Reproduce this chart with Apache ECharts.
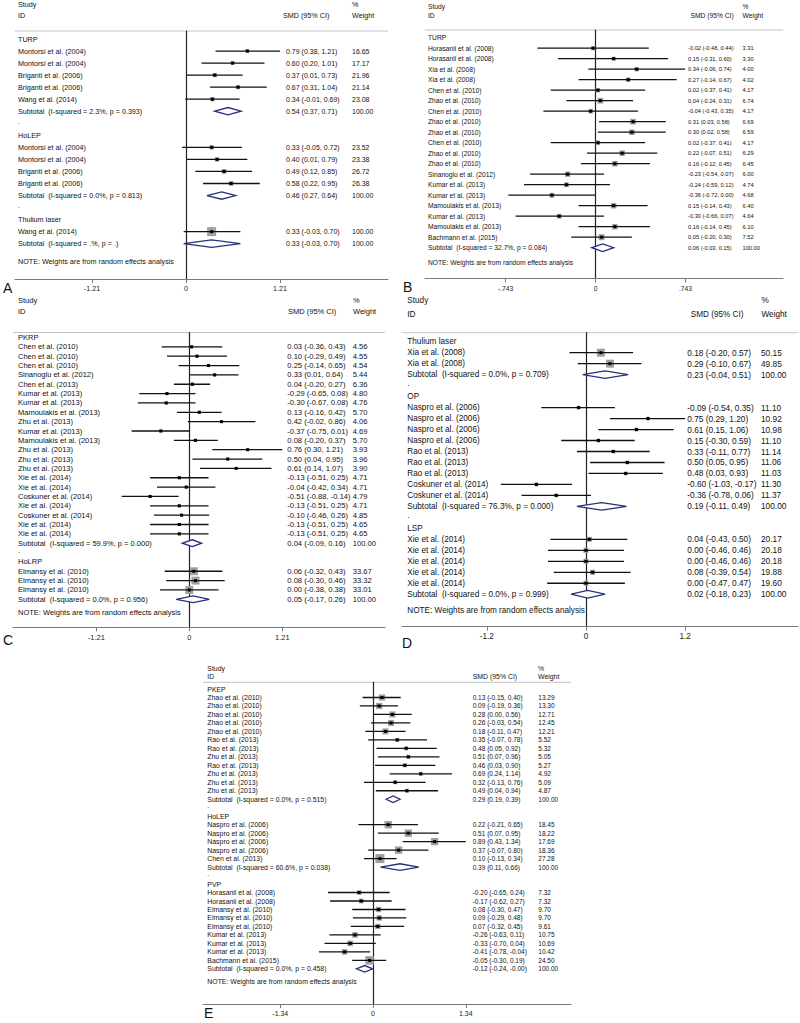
<!DOCTYPE html>
<html><head><meta charset="utf-8">
<script src="https://cdn.jsdelivr.net/npm/echarts@6/dist/echarts.min.js"></script>
<style>html,body{margin:0;padding:0;background:#fff}#c{width:800px;height:1023px}</style>
</head><body><div id="c"></div><script>
// ---------------- DATA ----------------
// Panel A
const A_groups = ['TURP', 'HoLEP', 'Thulium laser'];
const A_grp = [0, 0, 0, 0, 0, 1, 1, 1, 1, 2];
const A_names = ['Montorsi et al. (2004)', 'Montorsi et al. (2004)', 'Briganti et al. (2006)', 'Briganti et al. (2006)', 'Wang et al. (2014)',
  'Montorsi et al. (2004)', 'Montorsi et al. (2004)', 'Briganti et al. (2006)', 'Briganti et al. (2006)', 'Wang et al. (2014)'];
const A_est = [0.79, 0.60, 0.37, 0.67, 0.34, 0.33, 0.40, 0.49, 0.58, 0.33];
const A_lo = [0.38, 0.20, 0.01, 0.31, -0.01, -0.05, 0.01, 0.12, 0.22, -0.03];
const A_hi = [1.21, 1.01, 0.73, 1.04, 0.69, 0.72, 0.79, 0.85, 0.95, 0.70];
const A_wt = [16.65, 17.17, 21.96, 21.14, 23.08, 23.52, 23.38, 26.72, 26.38, 100.00];
const A_subEst = [0.54, 0.46, 0.33];
const A_subLo = [0.37, 0.27, -0.03];
const A_subHi = [0.71, 0.64, 0.70];
const A_subWt = [100, 100, 100];
const A_subI2 = ['2.3%', '0.0%', '.%'];
const A_subP = ['0.393', '0.813', '.'];
const A_ticks = [-1.21, 0, 1.21];
const A_tickLabels = ['-1.21', '0', '1.21'];

// Panel B
const B_groups = ['TURP'];
const B_grp = [0, 0, 0, 0, 0, 0, 0, 0, 0, 0, 0, 0, 0, 0, 0, 0, 0, 0, 0];
const B_names = ['Horasanli et al. (2008)', 'Horasanli et al. (2008)', 'Xia et al. (2008)', 'Xia et al. (2008)', 'Chen et al. (2010)',
  'Zhao et al. (2010)', 'Chen et al. (2010)', 'Zhao et al. (2010)', 'Zhao et al. (2010)', 'Chen et al. (2010)', 'Zhao et al. (2010)',
  'Zhao et al. (2010)', 'Sinanoglu et al. (2012)', 'Kumar et al. (2013)', 'Kumar et al. (2013)', 'Mamoulakis et al. (2013)',
  'Kumar et al. (2013)', 'Mamoulakis et al. (2013)', 'Bachmann et al. (2015)'];
const B_est = [-0.02, 0.15, 0.34, 0.27, 0.02, 0.04, -0.04, 0.31, 0.30, 0.02, 0.22, 0.16, -0.23, -0.24, -0.36, 0.15, -0.30, 0.16, 0.05];
const B_lo = [-0.48, -0.31, -0.06, -0.14, -0.37, -0.24, -0.43, 0.03, 0.02, -0.37, -0.07, -0.12, -0.54, -0.59, -0.72, -0.14, -0.66, -0.14, -0.20];
const B_hi = [0.44, 0.60, 0.74, 0.67, 0.41, 0.31, 0.35, 0.58, 0.58, 0.41, 0.51, 0.45, 0.07, 0.12, 0.00, 0.43, 0.07, 0.45, 0.30];
const B_wt = [3.31, 3.30, 4.00, 4.02, 4.17, 6.74, 4.17, 6.69, 6.59, 4.17, 6.29, 6.45, 6.00, 4.74, 4.68, 6.40, 4.64, 6.10, 7.52];
const B_subEst = [0.06];
const B_subLo = [-0.03];
const B_subHi = [0.15];
const B_subWt = [100];
const B_subI2 = ['32.7%'];
const B_subP = ['0.084'];
const B_ticks = [-0.743, 0, 0.743];
const B_tickLabels = ['-.743', '0', '.743'];

// Panel C
const C_groups = ['PKRP', 'HoLRP'];
const C_grp = [0, 0, 0, 0, 0, 0, 0, 0, 0, 0, 0, 0, 0, 0, 0, 0, 0, 0, 0, 0, 0, 1, 1, 1];
const C_names = ['Chen et al. (2010)', 'Chen et al. (2010)', 'Chen et al. (2010)', 'Sinanoglu et al. (2012)', 'Chen et al. (2013)',
  'Kumar et al. (2013)', 'Kumar et al. (2013)', 'Mamoulakis et al. (2013)', 'Zhu et al. (2013)', 'Kumar et al. (2013)',
  'Mamoulakis et al. (2013)', 'Zhu et al. (2013)', 'Zhu et al. (2013)', 'Zhu et al. (2013)', 'Xie et al. (2014)', 'Xie et al. (2014)',
  'Coskuner et al. (2014)', 'Xie et al. (2014)', 'Coskuner et al. (2014)', 'Xie et al. (2014)', 'Xie et al. (2014)',
  'Elmansy et al. (2010)', 'Elmansy et al. (2010)', 'Elmansy et al. (2010)'];
const C_est = [0.03, 0.10, 0.25, 0.33, 0.04, -0.29, -0.30, 0.13, 0.42, -0.37, 0.08, 0.76, 0.50, 0.61, -0.13, -0.04, -0.51, -0.13, -0.10, -0.13, -0.13, 0.06, 0.08, 0.00];
const C_lo = [-0.36, -0.29, -0.14, 0.01, -0.20, -0.65, -0.67, -0.16, -0.02, -0.75, -0.20, 0.30, 0.04, 0.14, -0.51, -0.42, -0.88, -0.51, -0.46, -0.51, -0.51, -0.32, -0.30, -0.38];
const C_hi = [0.43, 0.49, 0.65, 0.64, 0.27, 0.08, 0.08, 0.42, 0.86, 0.01, 0.37, 1.21, 0.95, 1.07, 0.25, 0.34, -0.14, 0.25, 0.26, 0.25, 0.25, 0.43, 0.46, 0.38];
const C_wt = [4.56, 4.55, 4.54, 5.44, 6.36, 4.80, 4.76, 5.70, 4.06, 4.69, 5.70, 3.93, 3.96, 3.90, 4.71, 4.71, 4.79, 4.71, 4.85, 4.65, 4.65, 33.67, 33.32, 33.01];
const C_subEst = [0.04, 0.05];
const C_subLo = [-0.09, -0.17];
const C_subHi = [0.16, 0.26];
const C_subWt = [100, 100];
const C_subI2 = ['59.9%', '0.0%'];
const C_subP = ['0.000', '0.956'];
const C_ticks = [-1.21, 0, 1.21];
const C_tickLabels = ['-1.21', '0', '1.21'];

// Panel D
const D_groups = ['Thulium laser', 'OP', 'LSP'];
const D_grp = [0, 0, 1, 1, 1, 1, 1, 1, 1, 1, 1, 2, 2, 2, 2, 2];
const D_names = ['Xia et al. (2008)', 'Xia et al. (2008)', 'Naspro et al. (2006)', 'Naspro et al. (2006)', 'Naspro et al. (2006)',
  'Naspro et al. (2006)', 'Rao et al. (2013)', 'Rao et al. (2013)', 'Rao et al. (2013)', 'Coskuner et al. (2014)',
  'Coskuner et al. (2014)', 'Xie et al. (2014)', 'Xie et al. (2014)', 'Xie et al. (2014)', 'Xie et al. (2014)', 'Xie et al. (2014)'];
const D_est = [0.18, 0.29, -0.09, 0.75, 0.61, 0.15, 0.33, 0.50, 0.48, -0.60, -0.36, 0.04, 0.00, 0.00, 0.08, 0.00];
const D_lo = [-0.20, -0.10, -0.54, 0.29, 0.15, -0.30, -0.11, 0.05, 0.03, -1.03, -0.78, -0.43, -0.46, -0.46, -0.39, -0.47];
const D_hi = [0.57, 0.67, 0.35, 1.20, 1.06, 0.59, 0.77, 0.95, 0.93, -0.17, 0.06, 0.50, 0.46, 0.46, 0.54, 0.47];
const D_wt = [50.15, 49.85, 11.10, 10.92, 10.98, 11.10, 11.14, 11.06, 11.03, 11.30, 11.37, 20.17, 20.18, 20.18, 19.88, 19.60];
const D_subEst = [0.23, 0.19, 0.02];
const D_subLo = [-0.04, -0.11, -0.18];
const D_subHi = [0.51, 0.49, 0.23];
const D_subWt = [100, 100, 100];
const D_subI2 = ['0.0%', '76.3%', '0.0%'];
const D_subP = ['0.709', '0.000', '0.999'];
const D_ticks = [-1.2, 0, 1.2];
const D_tickLabels = ['-1.2', '0', '1.2'];

// Panel E
const E_groups = ['PKEP', 'HoLEP', 'PVP'];
const E_grp = [0, 0, 0, 0, 0, 0, 0, 0, 0, 0, 0, 0, 1, 1, 1, 1, 1, 2, 2, 2, 2, 2, 2, 2, 2, 2];
const E_names = ['Zhao et al. (2010)', 'Zhao et al. (2010)', 'Zhao et al. (2010)', 'Zhao et al. (2010)', 'Zhao et al. (2010)',
  'Rao et al. (2013)', 'Rao et al. (2013)', 'Zhu et al. (2013)', 'Rao et al. (2013)', 'Zhu et al. (2013)', 'Zhu et al. (2013)',
  'Zhu et al. (2013)', 'Naspro et al. (2006)', 'Naspro et al. (2006)', 'Naspro et al. (2006)', 'Naspro et al. (2006)',
  'Chen et al. (2013)', 'Horasanli et al. (2008)', 'Horasanli et al. (2008)', 'Elmansy et al. (2010)', 'Elmansy et al. (2010)',
  'Elmansy et al. (2010)', 'Kumar et al. (2013)', 'Kumar et al. (2013)', 'Kumar et al. (2013)', 'Bachmann et al. (2015)'];
const E_est = [0.13, 0.09, 0.28, 0.26, 0.18, 0.35, 0.48, 0.51, 0.46, 0.69, 0.32, 0.49, 0.22, 0.51, 0.89, 0.37, 0.10, -0.20, -0.17, 0.08, 0.09, 0.07, -0.26, -0.33, -0.41, -0.05];
const E_lo = [-0.15, -0.19, 0.00, -0.03, -0.11, -0.07, 0.05, 0.07, 0.03, 0.24, -0.13, 0.04, -0.21, 0.07, 0.43, -0.07, -0.13, -0.65, -0.62, -0.30, -0.29, -0.32, -0.63, -0.70, -0.78, -0.30];
const E_hi = [0.40, 0.36, 0.56, 0.54, 0.47, 0.78, 0.92, 0.96, 0.90, 1.14, 0.76, 0.94, 0.65, 0.95, 1.34, 0.80, 0.34, 0.24, 0.27, 0.47, 0.48, 0.45, 0.11, 0.04, -0.04, 0.19];
const E_wt = [13.29, 13.30, 12.71, 12.45, 12.21, 5.52, 5.32, 5.05, 5.27, 4.92, 5.09, 4.87, 18.45, 18.22, 17.69, 18.36, 27.28, 7.32, 7.32, 9.70, 9.70, 9.61, 10.75, 10.69, 10.42, 24.50];
const E_subEst = [0.29, 0.39, -0.12];
const E_subLo = [0.19, 0.11, -0.24];
const E_subHi = [0.39, 0.66, -0.004];
const E_subWt = [100, 100, 100];
const E_subI2 = ['0.0%', '60.6%', '0.0%'];
const E_subP = ['0.515', '0.038', '0.458'];
const E_ticks = [-1.34, 0, 1.34];
const E_tickLabels = ['-1.34', '0', '1.34'];

const NOTE_TEXT = 'NOTE: Weights are from random effects analysis';

// ---------------- LAYOUT (pixels) ----------------
const LAY_A = {left:15, right:388, zeroX:186, tickPx:94, top:31, bottom:279, r0:39, sp:12.04, font:7.2, valFont:7.0, nameX:18, ciX:286, wtX:352, hY1:4, hY2:15, hSmdX:283, hPctX:352, letter:'A', lx:3, ly:288, box:9, dia:3.7};
const LAY_B = {left:425, right:783, zeroX:595.5, tickPx:90, top:30, bottom:278.5, r0:37.7, sp:10.5, font:6.7, valFont:5.7, nameX:428, ciX:688, wtX:742.5, hY1:6, hY2:15, hSmdX:690.5, hPctX:742.5, letter:'B', lx:403, ly:287, box:6, dia:3.8};
const LAY_C = {left:13, right:385, zeroX:189.3, tickPx:93, top:332.5, bottom:627.3, r0:337.5, sp:9.35, font:7.5, valFont:7.6, nameX:18, ciX:287.3, wtX:352.7, hY1:300.7, hY2:311.7, hSmdX:288, hPctX:353, letter:'C', lx:3, ly:640, box:8, dia:3.4};
const LAY_D = {left:402, right:798, zeroX:586, tickPx:99.2, top:332.7, bottom:626.7, r0:341.7, sp:10.98, font:8.2, valFont:8.3, nameX:407.3, ciX:687.3, wtX:761, hY1:300, hY2:314, hSmdX:690.7, hPctX:761.5, letter:'D', lx:402, ly:643, box:8, dia:3.8};
const LAY_E = {left:203, right:571, zeroX:373, tickPx:92.8, top:682.3, bottom:1004, r0:689, sp:8.48, font:6.9, valFont:6.5, nameX:207.3, ciX:472.7, wtX:538.3, hY1:668, hY2:676.5, hSmdX:472.7, hPctX:538, letter:'E', lx:204, ly:1013, box:9, dia:3.3};

const PANELS = [
  {L:LAY_A, groups:A_groups, grp:A_grp, names:A_names, est:A_est, lo:A_lo, hi:A_hi, wt:A_wt, sEst:A_subEst, sLo:A_subLo, sHi:A_subHi, sWt:A_subWt, sI2:A_subI2, sP:A_subP, ticks:A_ticks, tickLabels:A_tickLabels},
  {L:LAY_B, groups:B_groups, grp:B_grp, names:B_names, est:B_est, lo:B_lo, hi:B_hi, wt:B_wt, sEst:B_subEst, sLo:B_subLo, sHi:B_subHi, sWt:B_subWt, sI2:B_subI2, sP:B_subP, ticks:B_ticks, tickLabels:B_tickLabels},
  {L:LAY_C, groups:C_groups, grp:C_grp, names:C_names, est:C_est, lo:C_lo, hi:C_hi, wt:C_wt, sEst:C_subEst, sLo:C_subLo, sHi:C_subHi, sWt:C_subWt, sI2:C_subI2, sP:C_subP, ticks:C_ticks, tickLabels:C_tickLabels},
  {L:LAY_D, groups:D_groups, grp:D_grp, names:D_names, est:D_est, lo:D_lo, hi:D_hi, wt:D_wt, sEst:D_subEst, sLo:D_subLo, sHi:D_subHi, sWt:D_subWt, sI2:D_subI2, sP:D_subP, ticks:D_ticks, tickLabels:D_tickLabels},
  {L:LAY_E, groups:E_groups, grp:E_grp, names:E_names, est:E_est, lo:E_lo, hi:E_hi, wt:E_wt, sEst:E_subEst, sLo:E_subLo, sHi:E_subHi, sWt:E_subWt, sI2:E_subI2, sP:E_subP, ticks:E_ticks, tickLabels:E_tickLabels}
];

const FONT_FAMILY = '"Liberation Sans", Arial, Helvetica, sans-serif';
const TXT = '#111';
const f2 = v => v.toFixed(2);

function buildRows(P) {
  const rows = []; let r = 0;
  P.groups.forEach((g, gi) => {
    if (gi > 0) rows.push({type:'dot', r: r++});
    rows.push({type:'group', r: r++, text: g});
    P.names.forEach((n, i) => { if (P.grp[i] === gi) rows.push({type:'study', r: r++, i: i}); });
    rows.push({type:'sub', r: r++, gi: gi});
  });
  rows.push({type:'note', r: r + 0.45});
  return rows;
}

function textEl(x, y, s, size, align) {
  const a = align || 'left';
  return {type:'text', style:{x:x, y:y, text:s, font: size + 'px ' + FONT_FAMILY, fill:TXT,
    textAlign:a, align:a, textVerticalAlign:'middle', verticalAlign:'middle'}};
}

const option = {
  animation:false,
  backgroundColor:'#fff',
  grid:[], xAxis:[], yAxis:[], series:[], graphic:[]
};

PANELS.forEach((P, k) => {
  const L = P.L;
  const ppu = L.tickPx / P.ticks[2];
  const rows = buildRows(P);
  const maxWt = Math.max.apply(null, P.wt);
  option.grid.push({left:L.left, top:L.top, width:L.right - L.left, height:L.bottom - L.top,
    containLabel:false, outerBoundsMode:'none'});
  option.xAxis.push({
    type:'value', gridIndex:k,
    min:(L.left - L.zeroX) / ppu, max:(L.right - L.zeroX) / ppu,
    axisLine:{show:true, onZero:false, lineStyle:{color:'#7a7a7a', width:1}},
    axisTick:{show:true, customValues:P.ticks, length:4, inside:false, lineStyle:{color:'#7a7a7a'}},
    axisLabel:{customValues:P.ticks, margin:6, fontSize:L.font, color:'#222', fontFamily:FONT_FAMILY,
      formatter: v => { const j = P.ticks.findIndex(t => Math.abs(t - v) < 1e-9); return j >= 0 ? P.tickLabels[j] : ''; }},
    splitLine:{show:false}
  });
  option.yAxis.push({
    type:'value', gridIndex:k, inverse:true,
    min:(L.top - L.r0) / L.sp, max:(L.bottom - L.r0) / L.sp,
    axisLine:{show:true, onZero:true, lineStyle:{color:'#222', width:1.2}},
    axisTick:{show:false}, axisLabel:{show:false}, splitLine:{show:false}
  });
  option.series.push({
    type:'custom', xAxisIndex:k, yAxisIndex:k, clip:false, silent:true,
    data: rows.map(row => [row.type === 'study' ? P.est[row.i] : (row.type === 'sub' ? P.sEst[row.gi] : 0), row.r]),
    renderItem: function (params, api) {
      const row = rows[params.dataIndex];
      const y = api.coord([0, row.r])[1];
      const px = v => api.coord([v, row.r])[0];
      const ch = [];
      if (row.type === 'group') ch.push(textEl(L.nameX, y, row.text, L.font));
      else if (row.type === 'dot') ch.push(textEl(L.nameX, y - 2, '.', L.font));
      else if (row.type === 'note') ch.push(textEl(L.nameX, y, NOTE_TEXT, L.font));
      else if (row.type === 'study') {
        const i = row.i;
        const s = L.box * Math.sqrt(P.wt[i] / maxWt);
        const cx = px(P.est[i]);
        ch.push({type:'rect', shape:{x:cx - s / 2, y:y - s / 2, width:s, height:s}, style:{fill:'#a0a0a0'}});
        ch.push({type:'line', shape:{x1:px(P.lo[i]), y1:y, x2:px(P.hi[i]), y2:y}, style:{stroke:'#111', lineWidth:1.3}});
        ch.push({type:'rect', shape:{x:cx - 1.5, y:y - 1.5, width:3, height:3}, style:{fill:'#000'}});
        ch.push(textEl(L.nameX, y, P.names[i], L.font));
        ch.push(textEl(L.ciX, y, f2(P.est[i]) + ' (' + f2(P.lo[i]) + ', ' + f2(P.hi[i]) + ')', L.valFont));
        ch.push(textEl(L.wtX, y, f2(P.wt[i]), L.valFont));
      } else if (row.type === 'sub') {
        const g = row.gi;
        const cx = px(P.sEst[g]);
        ch.push({type:'polygon', shape:{points:[[px(P.sLo[g]), y], [cx, y - L.dia], [px(P.sHi[g]), y], [cx, y + L.dia]]},
          style:{fill:'#fff', stroke:'#28307a', lineWidth:1.3}});
        ch.push(textEl(L.nameX, y, 'Subtotal  (I-squared = ' + P.sI2[g] + ', p = ' + P.sP[g] + ')', L.font));
        ch.push(textEl(L.ciX, y, f2(P.sEst[g]) + ' (' + f2(P.sLo[g]) + ', ' + f2(P.sHi[g]) + ')', L.valFont));
        ch.push(textEl(L.wtX, y, f2(P.sWt[g]), L.valFont));
      }
      return {type:'group', children:ch};
    }
  });
  // headers, rule and panel letter
  const hdr = (x, y, s, size) => ({type:'text', x:x, y:y, style:{text:s, font:size + 'px ' + FONT_FAMILY, fill:TXT,
    textAlign:'left', align:'left', textVerticalAlign:'middle', verticalAlign:'middle'}});
  option.graphic.push(hdr(L.nameX, L.hY1, 'Study', L.font));
  option.graphic.push(hdr(L.nameX, L.hY2, 'ID', L.font));
  option.graphic.push(hdr(L.hSmdX, L.hY2, 'SMD (95% CI)', L.font));
  option.graphic.push(hdr(L.hPctX, L.hY1, '%', L.font));
  option.graphic.push(hdr(L.hPctX, L.hY2, 'Weight', L.font));
  option.graphic.push({type:'line', shape:{x1:L.left, y1:L.top, x2:L.right, y2:L.top}, style:{stroke:'#c4c4c4', lineWidth:1}});
  option.graphic.push(hdr(L.lx, L.ly, L.letter, 14));
});

const chart = echarts.init(document.getElementById('c'), null, {renderer:'svg', width:800, height:1023});
chart.setOption(option);
</script></body></html>
